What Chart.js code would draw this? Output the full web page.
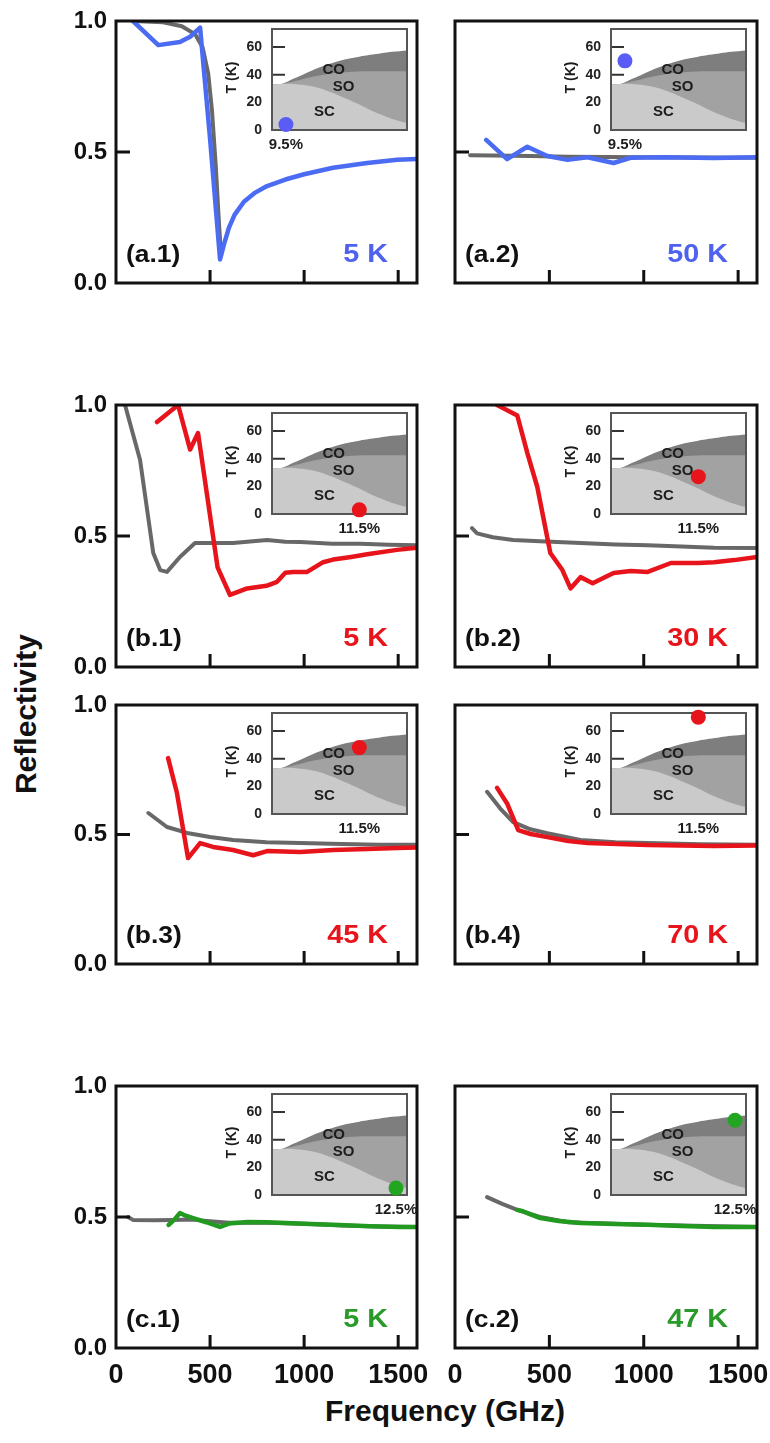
<!DOCTYPE html>
<html>
<head>
<meta charset="utf-8">
<script src="https://cdn.jsdelivr.net/npm/chart.js@4.4.1/dist/chart.umd.min.js"></script>
<style>
html, body { margin: 0; padding: 0; background: #fff; }
#page { position: relative; width: 770px; height: 1443px; overflow: hidden; font-family: "Liberation Sans", Arial, sans-serif; }
canvas { position: absolute; }
.title { position: absolute; font-weight: bold; font-size: 30px; line-height: 30px; white-space: nowrap; color: #111; text-align: center; }
#xTitle { left: 245px; top: 1396px; width: 400px; height: 30px; }
#yTitle { left: -94px; top: 699px; width: 240px; height: 30px; transform: rotate(-90deg); }
</style>
</head>
<body>
<div id="page">
  <div class="title" id="xTitle">Frequency (GHz)</div>
  <div class="title" id="yTitle">Reflectivity</div>
</div>
<script>
// ---- data ----
const xTicks = [0, 500, 1000, 1500];
const yTicks = [0, 0.5, 1.0];
const insetTTicks = [0, 20, 40, 60];

const panelNames = ['(a.1)', '(a.2)', '(b.1)', '(b.2)', '(b.3)', '(b.4)', '(c.1)', '(c.2)'];
const tempLabels = ['5 K', '50 K', '5 K', '30 K', '45 K', '70 K', '5 K', '47 K'];
const dopingLevel = [9.5, 9.5, 11.5, 11.5, 11.5, 11.5, 12.5, 12.5];
const dopingLabels = ['9.5%', '9.5%', '11.5%', '11.5%', '11.5%', '11.5%', '12.5%', '12.5%'];
const dotTemp = [4, 50, 3, 27, 48, 70, 5, 54];

// [frequency GHz, reflectivity]
const a1Gray = [[90,1.0],[250,0.995],[350,0.98],[420,0.95],[460,0.9],[490,0.8],[510,0.66],[530,0.45],[548,0.22],[558,0.11]];
const a1Blue = [[90,1.0],[225,0.908],[340,0.92],[394,0.94],[447,0.975],[500,0.55],[553,0.09],[575,0.15],[600,0.21],[630,0.26],[680,0.31],[740,0.345],[803,0.37],[900,0.395],[1000,0.415],[1154,0.44],[1335,0.458],[1495,0.47],[1600,0.473]];
const a2Gray = [[80,0.488],[200,0.487],[400,0.485],[600,0.482],[1000,0.48],[1600,0.478]];
const a2Blue = [[165,0.546],[276,0.473],[383,0.52],[489,0.485],[596,0.47],[702,0.48],[840,0.458],[930,0.478],[1106,0.48],[1373,0.477],[1600,0.48]];
const b1Gray = [[48,1.0],[128,0.79],[198,0.435],[235,0.37],[271,0.363],[340,0.42],[420,0.473],[622,0.473],[803,0.485],[900,0.478],[979,0.477],[1150,0.47],[1300,0.47],[1450,0.467],[1600,0.465]];
const b1Red = [[218,0.935],[330,1.0],[394,0.83],[436,0.893],[540,0.38],[553,0.359],[606,0.275],[697,0.3],[800,0.31],[856,0.325],[900,0.36],[941,0.363],[1016,0.363],[1101,0.4],[1154,0.41],[1250,0.42],[1335,0.43],[1494,0.447],[1600,0.455]];
const b2Gray = [[90,0.53],[117,0.51],[200,0.495],[308,0.485],[450,0.48],[665,0.473],[850,0.468],[1021,0.465],[1200,0.46],[1373,0.455],[1600,0.454]];
const b2Red = [[223,1.0],[330,0.96],[383,0.817],[436,0.687],[505,0.435],[569,0.37],[612,0.3],[665,0.343],[729,0.32],[840,0.359],[931,0.366],[1021,0.363],[1144,0.397],[1287,0.397],[1373,0.4],[1479,0.408],[1600,0.42]];
const b3Gray = [[172,0.583],[271,0.529],[378,0.506],[500,0.49],[622,0.479],[800,0.47],[979,0.467],[1200,0.463],[1400,0.46],[1600,0.46]];
const b3Red = [[277,0.795],[324,0.66],[383,0.409],[447,0.467],[516,0.452],[622,0.44],[729,0.42],[803,0.436],[979,0.432],[1154,0.44],[1335,0.444],[1494,0.448],[1600,0.45]];
const b4Gray = [[170,0.665],[240,0.6],[308,0.548],[400,0.52],[489,0.505],[665,0.479],[850,0.47],[1021,0.467],[1300,0.462],[1600,0.46]];
const b4Red = [[223,0.68],[276,0.62],[335,0.517],[400,0.502],[489,0.49],[600,0.475],[702,0.467],[1021,0.459],[1373,0.456],[1600,0.458]];
const c1Gray = [[64,0.5],[90,0.489],[200,0.488],[300,0.489],[400,0.49],[600,0.478],[800,0.478],[1000,0.474],[1200,0.468],[1400,0.464],[1600,0.462]];
const c1Green = [[280,0.47],[310,0.49],[340,0.515],[370,0.505],[410,0.496],[480,0.48],[553,0.462],[600,0.475],[700,0.481],[803,0.48],[1000,0.474],[1154,0.47],[1350,0.465],[1510,0.462],[1600,0.462]];
const c2Gray = [[170,0.576],[250,0.55],[330,0.527],[450,0.5],[600,0.48],[1000,0.47],[1600,0.462]];
const c2Green = [[330,0.527],[360,0.522],[400,0.51],[452,0.496],[550,0.485],[665,0.477],[850,0.473],[1021,0.47],[1200,0.466],[1373,0.462],[1600,0.462]];

// phase diagram of the insets: doping (%) vs T (K)
const phaseDoping = [9.12, 9.4, 9.7, 10.0, 10.3, 10.6, 10.9, 11.2, 11.5, 11.8, 12.1, 12.4, 12.8];
const coTop =  [33, 33.5, 37, 40.5, 44, 47, 49.5, 51.5, 53, 54.3, 55.5, 56.5, 57.5];
const soTop =  [33, 33.3, 35, 37, 38.8, 40.3, 41.3, 42, 42.3, 42.4, 42.5, 42.5, 42.5];
const scTop =  [33, 33.3, 33.3, 32.5, 31, 28.5, 25.5, 22, 18.5, 14.5, 11, 8, 5];
const phaseNames = ['CO', 'SO', 'SC'];
const phaseNameDoping = [10.8, 11.07, 10.55];
const phaseNameTemp = [43.5, 31, 13];

const grayData = [a1Gray, a2Gray, b1Gray, b2Gray, b3Gray, b4Gray, c1Gray, c2Gray];
const colorData = [a1Blue, a2Blue, b1Red, b2Red, b3Red, b4Red, c1Green, c2Green];

// ---- styling ----
const FONT = '"Liberation Sans", Arial, sans-serif';
Chart.defaults.font.family = FONT;
Chart.defaults.color = '#111';

const BLUE = '#4b6cf2', RED = '#e8141c', GREEN = '#229a22';
const lineColor = [BLUE, BLUE, RED, RED, RED, RED, GREEN, GREEN];
const dotColor = ['#5a5cf5', '#5a5cf5', RED, RED, RED, RED, '#22a622', '#22a622'];
const textColor = ['#4f62ef', '#4f62ef', RED, RED, RED, RED, '#2a9a2a', '#2a9a2a'];

const colLeft = [116, 455], colRight = [417, 757];
const rowTop = [21, 405, 705, 1086], rowBottom = [283, 667, 964, 1348];

const page = document.getElementById('page');

function makeCanvas(left, top, w, h, z) {
    const c = document.createElement('canvas');
    c.width = w; c.height = h;
    c.style.left = left + 'px';
    c.style.top = top + 'px';
    c.style.width = w + 'px';
    c.style.height = h + 'px';
    c.style.zIndex = z;
    page.appendChild(c);
    return c;
}

function stretchText(ctx, text, x, y, align, sx) {
    ctx.save();
    ctx.translate(x, y);
    ctx.scale(sx, 1);
    ctx.textAlign = align;
    ctx.fillText(text, 0, 0);
    ctx.restore();
}

// keep the chart area exactly where the scale sizes put it
function noScalePadding(s) {
    s.paddingLeft = 0; s.paddingRight = 0;
    s.paddingTop = 0; s.paddingBottom = 0;
}

const toXY = arr => arr.map(p => ({ x: p[0], y: p[1] }));

// frame, inward ticks and panel texts
const framePlugin = {
    id: 'frame',
    afterDraw(chart, args, opts) {
        const { ctx, chartArea: a } = chart;
        const x = chart.scales.x, y = chart.scales.y;
        ctx.save();
        ctx.strokeStyle = '#111';
        ctx.lineWidth = 3;
        ctx.beginPath();
        xTicks.forEach(v => {
            if (v <= 0) return;
            const px = x.getPixelForValue(v);
            ctx.moveTo(px, a.bottom);
            ctx.lineTo(px, a.bottom - 13);
        });
        yTicks.forEach(v => {
            if (v <= 0 || v >= 1) return;
            const py = y.getPixelForValue(v);
            ctx.moveTo(a.left, py);
            ctx.lineTo(a.left + 14, py);
        });
        ctx.stroke();
        ctx.strokeRect(a.left, a.top, a.right - a.left, a.bottom - a.top);

        ctx.textBaseline = 'alphabetic';
        ctx.fillStyle = '#111';
        ctx.font = 'bold 23px ' + FONT;
        stretchText(ctx, opts.name, a.left + 10, a.bottom - 21, 'left', 1.15);
        ctx.fillStyle = opts.color;
        ctx.font = 'bold 25px ' + FONT;
        stretchText(ctx, opts.temp, a.right - 29, a.bottom - 21, 'right', 1.15);
        ctx.restore();
    }
};

// inset phase diagram decorations
const insetPlugin = {
    id: 'inset',
    beforeDatasetsDraw(chart) {
        const { ctx, chartArea: a } = chart;
        const y = chart.scales.y;
        ctx.save();
        ctx.fillStyle = '#fff';
        ctx.fillRect(a.left, a.top, a.right - a.left, a.bottom - a.top);
        ctx.strokeStyle = '#333';
        ctx.lineWidth = 2;
        ctx.beginPath();
        insetTTicks.forEach(v => {
            if (v <= 0) return;
            const py = y.getPixelForValue(v);
            ctx.moveTo(a.left, py);
            ctx.lineTo(a.left + 13, py);
        });
        ctx.stroke();
        ctx.restore();
    },
    beforeDatasetDraw(chart, args) {
        if (args.index !== 0) return;
        const { ctx, chartArea: a } = chart;
        const x = chart.scales.x, y = chart.scales.y;
        ctx.save();
        ctx.fillStyle = '#1c1c1c';
        ctx.font = 'bold 15px ' + FONT;
        ctx.textAlign = 'center';
        ctx.textBaseline = 'middle';
        phaseNames.forEach((n, k) => {
            ctx.fillText(n, x.getPixelForValue(phaseNameDoping[k]), y.getPixelForValue(phaseNameTemp[k]));
        });
        ctx.strokeStyle = '#555';
        ctx.lineWidth = 2;
        ctx.strokeRect(a.left, a.top, a.right - a.left, a.bottom - a.top);
        ctx.restore();
    },
    afterDraw(chart, args, opts) {
        const { ctx, chartArea: a } = chart;
        const x = chart.scales.x;
        ctx.save();
        ctx.fillStyle = '#1c1c1c';
        ctx.font = 'bold 15px ' + FONT;
        ctx.textAlign = 'center';
        ctx.textBaseline = 'middle';
        ctx.fillText(opts.doping, x.getPixelForValue(opts.dopingValue), a.bottom + 15);
        ctx.translate(a.left - 40, (a.top + a.bottom) / 2 - 2);
        ctx.rotate(-Math.PI / 2);
        ctx.font = 'bold 14px ' + FONT;
        ctx.fillText('T (K)', 0, 0);
        ctx.restore();
    }
};

for (let i = 0; i < 8; i++) {
    const col = i % 2, row = Math.floor(i / 2);
    const L = colLeft[col], R = colRight[col], T = rowTop[row], B = rowBottom[row];
    const bottomRow = row === 3;

    // main panel
    const padTop = 14, padRight = 13, yW = 116, xH = 45;
    const cv = makeCanvas(L - yW, T - padTop, (R - L) + yW + padRight, (B - T) + padTop + xH, 1 + i);
    new Chart(cv, {
        type: 'scatter',
        data: {
            datasets: [
                {
                    data: toXY(colorData[i]),
                    showLine: true,
                    borderColor: lineColor[i],
                    borderWidth: 4.5,
                    borderJoinStyle: 'round',
                    borderCapStyle: 'round',
                    pointRadius: 0
                },
                {
                    data: toXY(grayData[i]),
                    showLine: true,
                    borderColor: '#686868',
                    borderWidth: 4,
                    borderJoinStyle: 'round',
                    borderCapStyle: 'round',
                    pointRadius: 0
                }
            ]
        },
        options: {
            responsive: false,
            animation: false,
            devicePixelRatio: 1,
            layout: { padding: { top: padTop, right: padRight, left: 0, bottom: 0 } },
            plugins: {
                legend: { display: false },
                tooltip: { enabled: false },
                frame: { name: panelNames[i], temp: tempLabels[i], color: textColor[i] }
            },
            scales: {
                x: {
                    type: 'linear',
                    min: 0,
                    max: 1600,
                    grid: { display: false, drawTicks: false },
                    border: { display: false },
                    afterBuildTicks: s => { s.ticks = xTicks.map(v => ({ value: v })); },
                    afterFit: s => { s.height = xH; noScalePadding(s); },
                    ticks: {
                        display: bottomRow,
                        padding: 11,
                        color: '#111',
                        font: { size: 27, weight: 'bold' },
                        maxRotation: 0,
                        autoSkip: false,
                        callback: v => String(v)
                    }
                },
                y: {
                    min: 0,
                    max: 1,
                    grid: { display: false, drawTicks: false },
                    border: { display: false },
                    afterBuildTicks: s => { s.ticks = yTicks.map(v => ({ value: v })); },
                    afterFit: s => { s.width = yW; noScalePadding(s); },
                    ticks: {
                        display: col === 0,
                        padding: 9,
                        color: '#111',
                        font: { size: 24, weight: 'bold' },
                        callback: v => Number(v).toFixed(1)
                    }
                }
            }
        },
        plugins: [framePlugin]
    });

    // inset phase diagram
    const iL = L + 156, iT = T + 8, iW = 135, iH = 101;
    const iYW = 60, iPadTop = 10, iPadRight = 25, iXH = 26;
    const ic = makeCanvas(iL - iYW, iT - iPadTop, iW + iYW + iPadRight, iH + iPadTop + iXH, 20 + i);
    const fillSet = (vals, color) => ({
        data: phaseDoping.map((d, k) => ({ x: d, y: vals[k] })),
        showLine: true,
        fill: 'origin',
        backgroundColor: color,
        borderColor: 'rgba(0,0,0,0)',
        borderWidth: 0,
        pointRadius: 0,
        tension: 0.3
    });
    new Chart(ic, {
        type: 'scatter',
        data: {
            datasets: [
                {
                    data: [{ x: dopingLevel[i], y: dotTemp[i] }],
                    pointRadius: 7.5,
                    pointBackgroundColor: dotColor[i],
                    pointBorderWidth: 0,
                    clip: false
                },
                fillSet(scTop, '#cacaca'),
                fillSet(soTop, '#a2a2a2'),
                fillSet(coTop, '#7e7e7e')
            ]
        },
        options: {
            responsive: false,
            animation: false,
            devicePixelRatio: 1,
            layout: { padding: { top: iPadTop, right: iPadRight, left: 0, bottom: 0 } },
            plugins: {
                legend: { display: false },
                tooltip: { enabled: false },
                inset: { doping: dopingLabels[i], dopingValue: dopingLevel[i] }
            },
            scales: {
                x: {
                    type: 'linear',
                    min: 9.12,
                    max: 12.8,
                    grid: { display: false, drawTicks: false },
                    border: { display: false },
                    ticks: { display: false },
                    afterFit: s => { s.height = iXH; noScalePadding(s); }
                },
                y: {
                    min: 0,
                    max: 73,
                    grid: { display: false, drawTicks: false },
                    border: { display: false },
                    afterBuildTicks: s => { s.ticks = insetTTicks.map(v => ({ value: v })); },
                    afterFit: s => { s.width = iYW; noScalePadding(s); },
                    ticks: {
                        padding: 10,
                        color: '#222',
                        font: { size: 14, weight: 'bold' }
                    }
                }
            }
        },
        plugins: [insetPlugin]
    });
}
</script>
</body>
</html>
